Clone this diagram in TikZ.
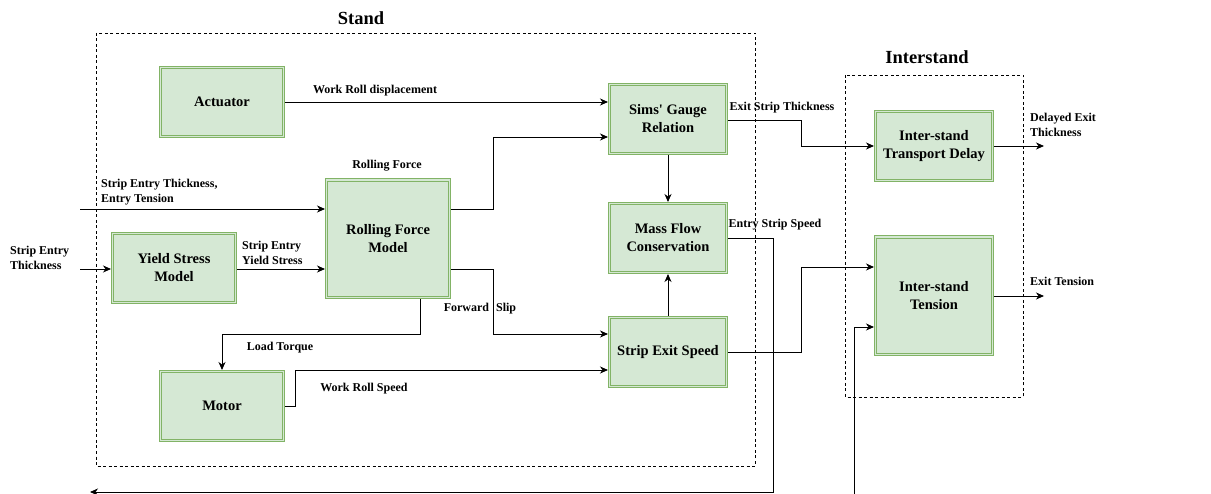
\documentclass[tikz,border=0pt]{standalone}
\usepackage{fontspec}
\setmainfont{Liberation Serif}[Ligatures=TeXOff]
\usetikzlibrary{arrows.meta,calc}
\definecolor{gfill}{RGB}{213,232,212}
\definecolor{gline}{RGB}{130,179,102}
\begin{document}
\begin{tikzpicture}[x=1pt,y=-1pt,
  blk/.style={draw=gline,line width=1pt,fill=gfill,
    minimum width=119pt,minimum height=71pt,align=center,inner sep=2pt,
    font=\fontsize{14.5}{18}\selectfont\bfseries},
  inner/.style={draw=gline,line width=0.9pt},
  lbl/.style={font=\fontsize{12}{15.5}\selectfont\bfseries,inner sep=0pt,align=left},
  ttl/.style={font=\fontsize{18.5}{22}\selectfont\bfseries,inner sep=0pt},
  arr/.style={draw,line width=0.9pt,-{Stealth[length=8pt,width=7pt,inset=2.5pt]}},
  grp/.style={draw,line width=0.7pt,dash pattern=on 3pt off 2.5pt}]
\useasboundingbox (0,0) rectangle (1211,494);
% groups
\draw[grp] (96,33) rectangle (755,466);
\draw[grp] (845,75) rectangle (1023,397);
\node[ttl] (tstand) at (361,18) {Stand};
\node[ttl] (tinter) at (927,57) {Interstand};
% blocks
\node[blk,minimum width=125pt] (act) at (222,102) {Actuator};
\node[blk,minimum width=125pt,minimum height=120pt] (rfm) at (388,239) {Rolling Force\\Model};
\node[blk,minimum width=125pt] (yield) at (174,268) {Yield Stress\\Model};
\node[blk,minimum width=125pt] (motor) at (222,406) {Motor};
\node[blk] (sims) at (668,119) {Sims' Gauge\\Relation};
\node[blk] (mfc) at (668,238) {Mass Flow\\Conservation};
\node[blk] (ses) at (668,352) {Strip Exit Speed};
\node[blk] (delay) at (934,146) {Inter-stand\\Transport Delay};
\node[blk,minimum height=120pt] (ten) at (934,296) {Inter-stand\\Tension};
\foreach \n in {act,rfm,yield,motor,sims,mfc,ses,delay,ten}
  \draw[inner] ([shift={(2.6pt,-2.6pt)}]\n.north west) rectangle ([shift={(-2.6pt,2.6pt)}]\n.south east);
% free ends
\coordinate (in1) at (80,209);
\coordinate (in2) at (80,269);
\coordinate (fb) at (90,492);
\coordinate (in3) at (854,494);
\coordinate (o1) at (1044,147);
% connectors
\draw[arr] (act.east) -- (act.east -| sims.west);
\draw[arr] ([yshift=30pt]rfm.east) -- ++(42,0) |- ([yshift=-18pt]sims.west);
\draw[arr] (in1) -- (in1 -| rfm.west);
\draw[arr] (in2) -- (in2 -| yield.west);
\draw[arr] (in2 -| yield.east) -- (in2 -| rfm.west);
\draw[arr] ([yshift=-30pt]rfm.east) -- ++(42,0) |- ([yshift=18pt]ses.west);
\draw[arr] ([xshift=32pt]rfm.south) -- ++(0,35) -| (motor.north);
\draw[arr] (motor.east) -- ++(10,0) |- ([yshift=-18pt]ses.west);
\draw[arr] (sims.south) -- (mfc.north);
\draw[arr] (ses.north) -- (mfc.south);
\draw[arr] (mfc.east) -- ++(45,0) |- (fb);
\draw[arr] ([yshift=-1pt]sims.east) -- ++(73,0) |- (delay.west);
\draw[arr] (delay.east) -- (delay.east -| o1);
\draw[arr] (ses.east) -- ++(73,0) |- ([yshift=29pt]ten.west);
\draw[arr] (in3) |- ([yshift=-31pt]ten.west);
\draw[arr] (ten.east) -- (ten.east -| o1);
% labels
\node[lbl] (l1) at (375,91) {Work Roll displacement};
\node[lbl] (l2) at (387,166) {Rolling Force};
\node[lbl,anchor=west] (l3) at (101,192) {Strip Entry Thickness,\\Entry Tension};
\node[lbl,anchor=west] (l4) at (10,258) {Strip Entry\\Thickness};
\node[lbl,anchor=west] (l5) at (242,253) {Strip Entry\\Yield Stress};
\node[lbl] (l6) at (480,309) {Forward\hspace{7pt}Slip};
\node[lbl] (l7) at (280,348) {Load Torque};
\node[lbl] (l8) at (364,389) {Work Roll Speed};
\node[lbl] (l9) at (775,225) {Entry Strip Speed};
\node[lbl] (l10) at (782,108) {Exit Strip Thickness};
\node[lbl,anchor=west] (l11) at (1030,125) {Delayed Exit\\Thickness};
\node[lbl,anchor=west] (l12) at (1030,281) {Exit Tension};
\end{tikzpicture}
\end{document}
